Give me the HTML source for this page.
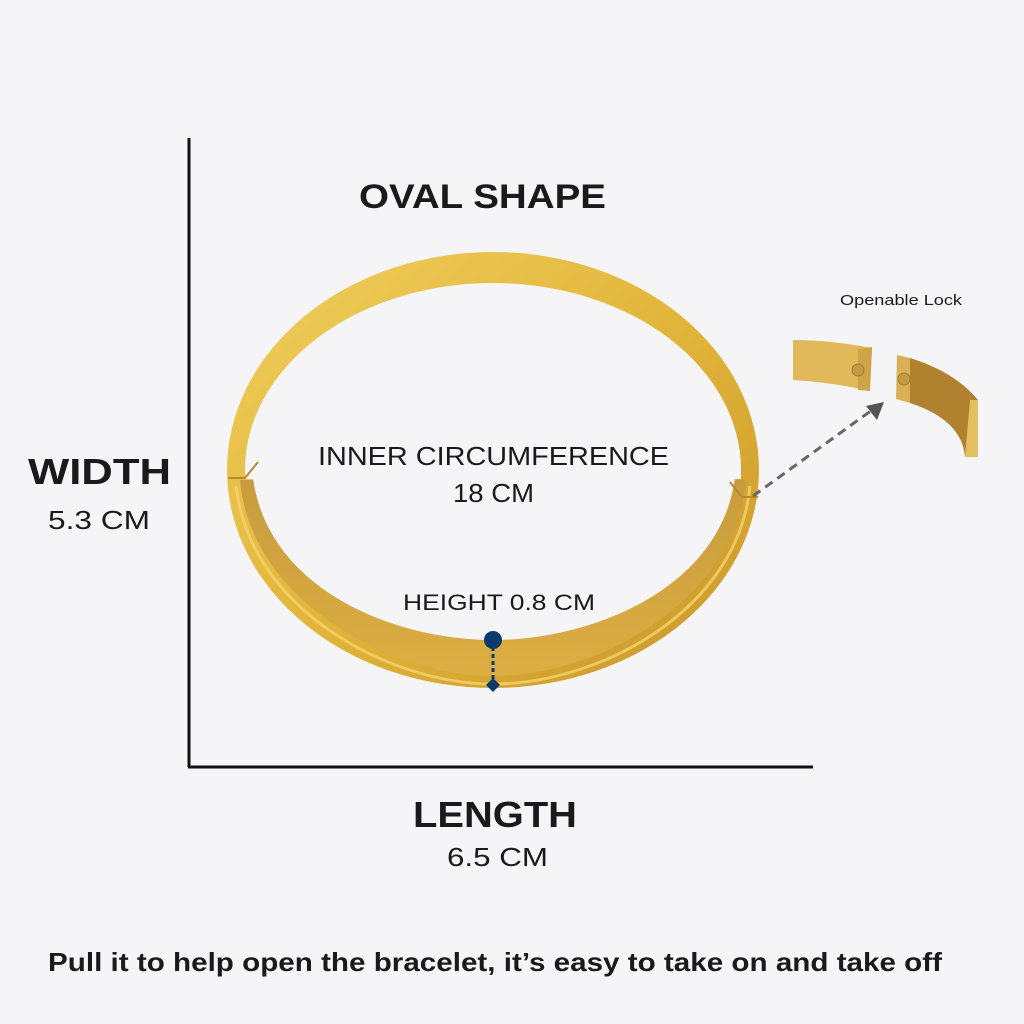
<!DOCTYPE html>
<html><head><style>
body{margin:0;width:1024px;height:1024px;background:#f5f5f7;overflow:hidden;font-family:"Liberation Sans",sans-serif}
svg{position:absolute;left:0;top:0}
</style></head><body>
<svg width="1024" height="1024" viewBox="0 0 1024 1024">
<defs>
<linearGradient id="g1" x1="0" y1="0" x2="1" y2="1">
<stop offset="0" stop-color="#f0cf5e"/><stop offset="0.5" stop-color="#e2b53a"/><stop offset="1" stop-color="#c9952a"/>
</linearGradient>
<linearGradient id="g2" x1="0" y1="0" x2="0" y2="1">
<stop offset="0" stop-color="#c89c3e"/><stop offset="1" stop-color="#dcae42"/>
</linearGradient>
<clipPath id="top"><rect x="0" y="0" width="1024" height="479"/></clipPath>
</defs>
<rect width="1024" height="1024" fill="#f5f5f7"/>
<line x1="189" y1="138" x2="189" y2="767" stroke="#111" stroke-width="3"/>
<line x1="188" y1="767" x2="813" y2="767" stroke="#111" stroke-width="3"/>
<!-- bracelet -->
<ellipse cx="493" cy="470" rx="266" ry="218" fill="url(#g1)"/>
<path d="M240 480 C250 600 390 676 493 676 C600 676 735 600 746 480 Z" fill="url(#g2)"/>
<path d="M236 486 C250 610 390 684 493 684 C600 684 738 610 750 486" fill="none" stroke="#f3d46a" stroke-width="3" opacity="0.8"/>
<ellipse cx="493" cy="470" rx="248" ry="187" fill="#f5f5f7" clip-path="url(#top)"/>
<path d="M245 478 L253 478 C268 590 395 640 493 640 C590 640 720 590 735 478 L741 478 Z" fill="#f5f5f7"/>
<path d="M228 478 L245 478 L258 462" fill="none" stroke="#b88a2e" stroke-width="2"/>
<path d="M758 497 L742 497 L730 482" fill="none" stroke="#b88a2e" stroke-width="2"/>
<!-- height marker -->
<line x1="493" y1="640" x2="493" y2="684" stroke="#0d3a6e" stroke-width="3" stroke-dasharray="4 3"/>
<circle cx="493" cy="640" r="9" fill="#0d3a6e"/>
<path d="M486 685 L493 678 L500 685 L493 692 Z" fill="#0d3a6e"/>
<!-- dashed arrow -->
<line x1="753" y1="496" x2="872" y2="410" stroke="#666" stroke-width="3" stroke-dasharray="9 6"/>
<path d="M884 402 L866 406 L877 420 Z" fill="#555"/>
<!-- lock pieces -->
<path d="M793 340 Q830 340 872 348 L870 391 Q830 382 793 380 Z" fill="#e2b95a"/>
<path d="M858 349 L872 347 L870 391 L858 390 Z" fill="#cfa348"/>
<circle cx="858" cy="370" r="6" fill="#c49a45" stroke="#a47c30"/>
<path d="M897 355 L910 358 L910 403 L896 399 Z" fill="#d9b055"/>
<path d="M910 358 Q955 372 978 400 L978 457 L965 457 Q962 420 910 403 Z" fill="#b0812f"/>
<path d="M970 400 L978 400 L978 457 L965 457 Z" fill="#e4bf60"/>
<circle cx="904" cy="379" r="6" fill="#c49a45" stroke="#a47c30"/>
<!-- text -->
<g fill="#1a1a1a">
<text x="359" y="208" font-size="34" font-weight="bold" textLength="247" lengthAdjust="spacingAndGlyphs">OVAL SHAPE</text>
<text x="318" y="465" font-size="26" textLength="351" lengthAdjust="spacingAndGlyphs">INNER CIRCUMFERENCE</text>
<text x="453" y="502" font-size="26" textLength="81" lengthAdjust="spacingAndGlyphs">18 CM</text>
<text x="403" y="610" font-size="22" textLength="192" lengthAdjust="spacingAndGlyphs">HEIGHT 0.8 CM</text>
<text x="413" y="827" font-size="36" font-weight="bold" textLength="164" lengthAdjust="spacingAndGlyphs">LENGTH</text>
<text x="447" y="866" font-size="26" textLength="101" lengthAdjust="spacingAndGlyphs">6.5 CM</text>
<text x="28" y="484" font-size="36" font-weight="bold" textLength="143" lengthAdjust="spacingAndGlyphs">WIDTH</text>
<text x="48" y="529" font-size="26" textLength="102" lengthAdjust="spacingAndGlyphs">5.3 CM</text>
<text x="840" y="305" font-size="15" textLength="122" lengthAdjust="spacingAndGlyphs">Openable Lock</text>
<text x="48" y="971" font-size="26" font-weight="bold" textLength="894" lengthAdjust="spacingAndGlyphs">Pull it to help open the bracelet, it’s easy to take on and take off</text>
</g>
</svg>
</body></html>
